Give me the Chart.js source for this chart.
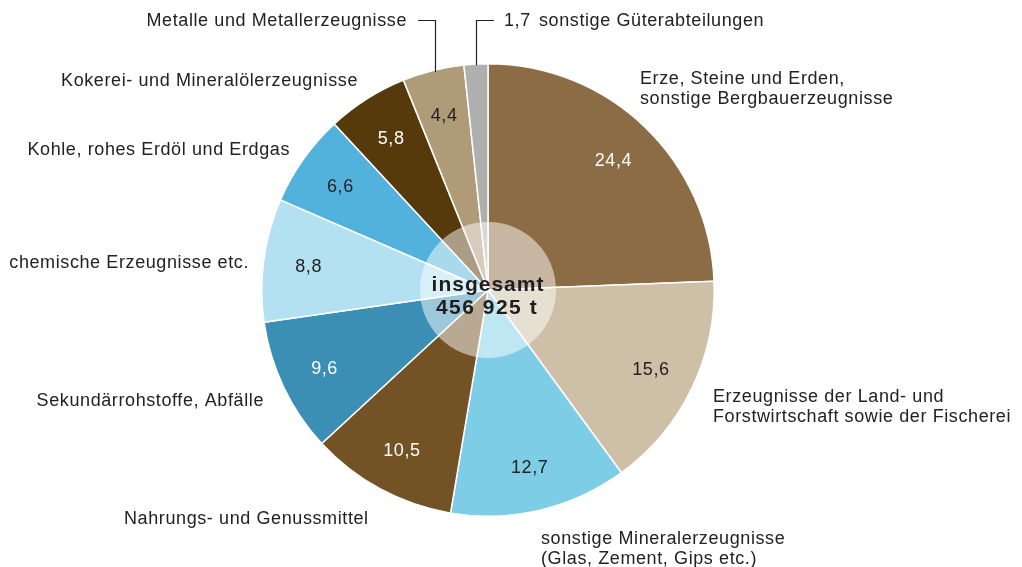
<!DOCTYPE html>
<html><head><meta charset="utf-8">
<script src="https://cdn.jsdelivr.net/npm/chart.js@4/dist/chart.umd.min.js"></script>
<style>html,body{margin:0;padding:0;background:#fff;}canvas{display:block;}</style>
</head><body>
<canvas id="c" width="1022" height="567"></canvas>
<script>
const categories = [
  ["Erze, Steine und Erden,", "sonstige Bergbauerzeugnisse"],
  ["Erzeugnisse der Land- und", "Forstwirtschaft sowie der Fischerei"],
  ["sonstige Mineralerzeugnisse", "(Glas, Zement, Gips etc.)"],
  ["Nahrungs- und Genussmittel"],
  ["Sekundärrohstoffe, Abfälle"],
  ["chemische Erzeugnisse etc."],
  ["Kohle, rohes Erdöl und Erdgas"],
  ["Kokerei- und Mineralölerzeugnisse"],
  ["Metalle und Metallerzeugnisse"],
  ["sonstige Güterabteilungen"]
];
const shares = [24.4, 15.6, 12.7, 10.5, 9.6, 8.8, 6.6, 5.8, 4.4, 1.7];
const totalLabel = ["insgesamt", "456 925 t"];

const colors = ["#8C6C44","#CDC0A6","#7ECDE6","#735326","#3B8FB4","#B4E1F1","#53B2DB","#573A0B","#B09B79","#AEB0B0"];
const valueColors = ["#fff","#222","#222","#fff","#fff","#222","#222","#fff","#222",null];
// label anchor layout (alphabetic baseline): [x, y, align]
const labelLayout = [
  [640, 84, "left"], [713, 402, "left"], [541, 544, "left"], [124, 524, "left"],
  [264, 406, "right"], [249, 268, "right"], [290, 155, "right"], [358, 86, "right"],
  [407, 26, "right"], [539, 26, "left"]
];
const fmt = v => v.toFixed(1).replace(".", ",");
const FONT = '"Liberation Sans", Arial, sans-serif';

const labelPlugin = {
  id: "labels",
  afterDatasetsDraw(chart) {
    const ctx = chart.ctx;
    const meta = chart.getDatasetMeta(0);
    const arc0 = meta.data[0];
    const cx = arc0.x, cy = arc0.y, R = arc0.outerRadius;
    ctx.save();
    ctx.beginPath();
    ctx.arc(cx, cy, 68, 0, Math.PI * 2);
    ctx.fillStyle = "rgba(255,255,255,0.5)";
    ctx.fill();
    ctx.fillStyle = "#1e1e1e";
    ctx.textAlign = "center";
    ctx.textBaseline = "alphabetic";
    ctx.letterSpacing = "1px";
    ctx.font = "bold 21px " + FONT;
    ctx.fillText(totalLabel[0], cx, cy + 1);
    ctx.letterSpacing = "1.5px";
    ctx.fillText(totalLabel[1], cx - 1, cy + 24);
    // value labels
    ctx.letterSpacing = "0.6px";
    ctx.font = "18px " + FONT;
    meta.data.forEach((arc, i) => {
      if (!valueColors[i]) return;
      const a = (arc.startAngle + arc.endAngle) / 2;
      const r = R * 0.8;
      ctx.fillStyle = valueColors[i];
      ctx.fillText(fmt(shares[i]), cx + Math.cos(a) * r, cy + Math.sin(a) * r + 6.5);
    });
    // category labels
    ctx.fillStyle = "#222";
    categories.forEach((lines, i) => {
      const [x, y, al] = labelLayout[i];
      ctx.textAlign = al;
      lines.forEach((t, k) => ctx.fillText(t, x, y + k * 20));
    });
    ctx.textAlign = "left";
    ctx.fillText(fmt(shares[9]), 504, 26);
    // leader lines
    ctx.strokeStyle = "#222";
    ctx.lineWidth = 1.2;
    const s9 = meta.data[9];
    const m9 = (s9.startAngle + s9.endAngle) / 2;
    const x9 = Math.round(cx + Math.cos(m9) * R) + 0.5, y9 = cy + Math.sin(m9) * R;
    ctx.beginPath();
    ctx.moveTo(x9, y9 + 1); ctx.lineTo(x9, 20.5); ctx.lineTo(494, 20.5);
    ctx.stroke();
    const x8 = 435.5, y8 = cy - Math.sqrt(R * R - (x8 - cx) * (x8 - cx));
    ctx.beginPath();
    ctx.moveTo(x8, y8 + 2); ctx.lineTo(x8, 20.5); ctx.lineTo(418, 20.5);
    ctx.stroke();
    ctx.restore();
  }
};

new Chart(document.getElementById("c"), {
  type: "pie",
  data: {
    labels: categories.map(l => l.join(" ")),
    datasets: [{ data: shares, backgroundColor: colors, borderColor: "#fff", borderWidth: 1.5 }]
  },
  options: {
    responsive: false,
    animation: false,
    layout: { padding: { left: 261, right: 307, top: 63, bottom: 50 } },
    plugins: { legend: { display: false }, tooltip: { enabled: false } }
  },
  plugins: [labelPlugin]
});
</script>
</body></html>
